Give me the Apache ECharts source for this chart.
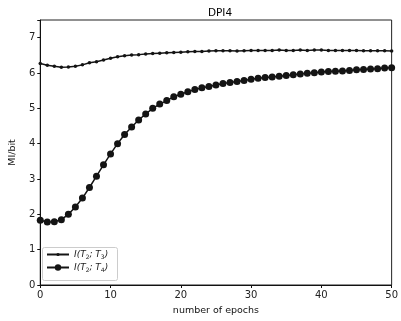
<!DOCTYPE html>
<html><head><meta charset="utf-8">
<script src="https://cdn.jsdelivr.net/npm/echarts@6/dist/echarts.min.js"></script>
<style>html,body{margin:0;padding:0;background:#fff}#c{width:401px;height:321px}</style>
</head><body><div id="c"></div>
<script>
const epochs = Array.from({length: 51}, (_, i) => i);
const seriesNames = ['I(T2;T3)', 'I(T2;T4)'];
const t3 = [6.27,6.22,6.19,6.16,6.17,6.19,6.23,6.29,6.32,6.37,6.42,6.46,6.49,6.51,6.52,6.54,6.55,6.56,6.57,6.58,6.59,6.60,6.61,6.61,6.62,6.63,6.63,6.63,6.62,6.63,6.64,6.64,6.64,6.64,6.65,6.64,6.64,6.65,6.64,6.65,6.65,6.64,6.64,6.64,6.64,6.64,6.63,6.63,6.63,6.63,6.62];
const t4 = [1.83,1.78,1.79,1.85,2.00,2.21,2.46,2.76,3.08,3.40,3.71,4.00,4.26,4.47,4.67,4.84,5.00,5.12,5.22,5.33,5.40,5.47,5.53,5.58,5.62,5.66,5.70,5.73,5.76,5.79,5.82,5.85,5.87,5.89,5.91,5.93,5.95,5.97,5.99,6.01,6.03,6.04,6.05,6.06,6.07,6.09,6.10,6.11,6.12,6.14,6.15];
const xTicks = [0,10,20,30,40,50];
const yTicks = [0,1,2,3,4,5,6,7];

const font = 'DejaVu Sans';
const ink = '#141414';
const legendText = {fontFamily: font, fontSize: 9, color: '#222',
  rich: {i: {fontFamily: font, fontSize: 9, fontStyle: 'italic', color: '#222'},
         n: {fontFamily: font, fontSize: 9, fontStyle: 'italic', color: '#222'},
         s: {fontFamily: font, fontSize: 6, color: '#222', padding: [5, 0, 0, 0]}}};
const fmt = n => n === seriesNames[0] ? '{i|I}{n|(T}{s|2}{n|; T}{s|3}{n|)}' : '{i|I}{n|(T}{s|2}{n|; T}{s|4}{n|)}';
const chart = echarts.init(document.getElementById('c'));
chart.setOption({
  animation: false,
  title: {text: 'DPI4', left: 215, top: 3, textAlign: 'center',
    textStyle: {fontFamily: font, fontSize: 10.5, fontWeight: 'normal', color: '#000'}},
  grid: {left: 37, right: 7, top: 20, bottom: 36, show: true, borderColor: '#222', borderWidth: 1},
  graphic: [{type: 'rect', left: 42, top: 247, shape: {width: 75, height: 33, r: 2},
    style: {fill: 'rgba(255,255,255,0.8)', stroke: '#ccc', lineWidth: 1}, z: 5}],
  xAxis: {type: 'value', min: 0, max: 50, interval: 10,
    name: 'number of epochs', nameLocation: 'middle', nameGap: 21,
    nameTextStyle: {fontFamily: font, fontSize: 9.5, color: '#111'},
    axisLine: {lineStyle: {color: '#111'}}, axisTick: {show: true, length: 3, lineStyle: {color: '#111'}},
    axisLabel: {fontFamily: font, fontSize: 10, color: '#222', margin: 5}, splitLine: {show: false}},
  yAxis: {type: 'value', min: 0, max: 7.5, interval: 1,
    name: 'MI/bit', nameLocation: 'middle', nameGap: 20,
    nameTextStyle: {fontFamily: font, fontSize: 9.5, color: '#111'},
    axisLine: {show: true, lineStyle: {color: '#111'}}, axisTick: {show: true, length: 3, lineStyle: {color: '#111'}},
    axisLabel: {fontFamily: font, fontSize: 10, color: '#222', margin: 5,
      formatter: v => (yTicks.includes(v) ? String(v) : '')}, splitLine: {show: false}},
  legend: [
    {left: 46, top: 250, itemWidth: 22, itemHeight: 4, padding: 0, itemGap: 6, z: 6,
      data: [seriesNames[0]], formatter: fmt, textStyle: legendText},
    {left: 46, top: 263, itemWidth: 22, itemHeight: 8, padding: 0, itemGap: 6, z: 6,
      data: [seriesNames[1]], formatter: fmt, textStyle: legendText}
  ],
  series: [
    {name: seriesNames[0], type: 'line', data: epochs.map((e, i) => [e, t3[i]]),
      symbol: 'circle', symbolSize: 3.5, lineStyle: {color: ink, width: 1.5}, itemStyle: {color: ink}},
    {name: seriesNames[1], type: 'line', data: epochs.map((e, i) => [e, t4[i]]),
      symbol: 'circle', symbolSize: 7, lineStyle: {color: ink, width: 1.5}, itemStyle: {color: ink}}
  ]
});
</script></body></html>
